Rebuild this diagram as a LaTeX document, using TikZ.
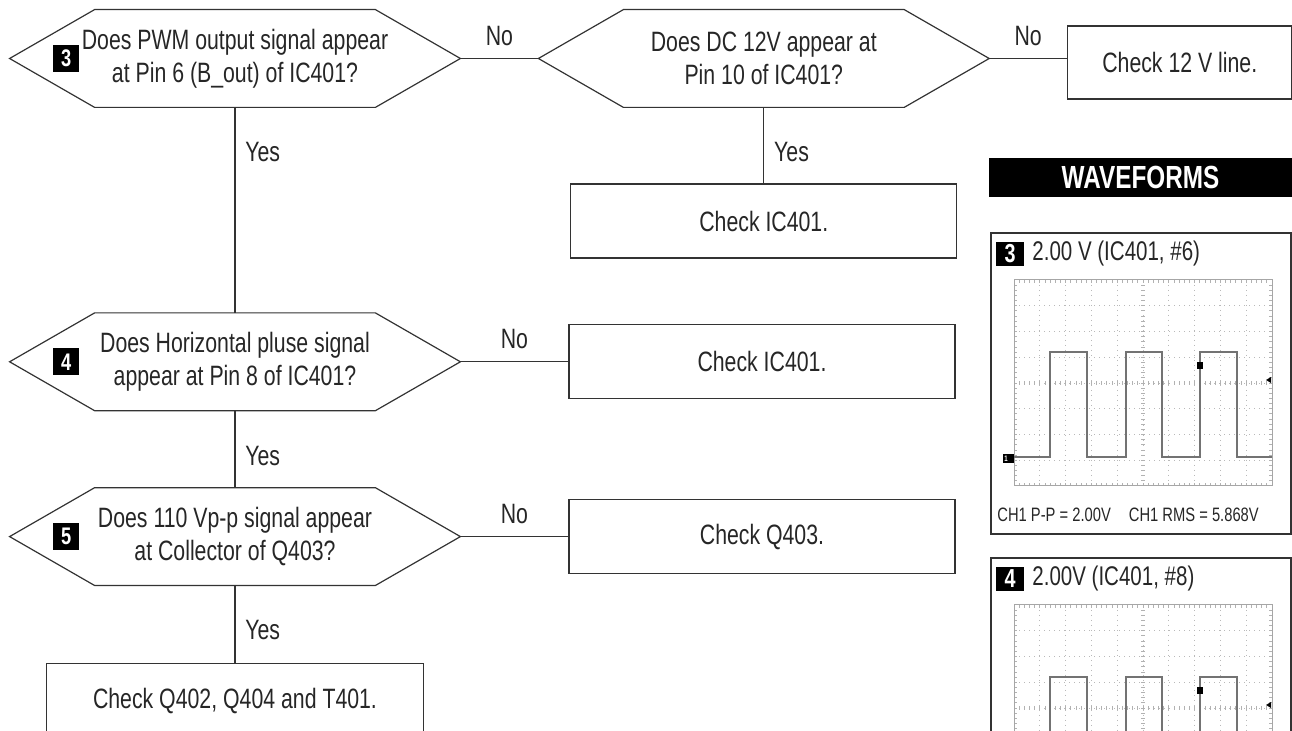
\documentclass[tikz,border=0pt]{standalone}
\usepackage{fontspec}
\setmainfont{Liberation Sans}[FakeStretch=0.76]
\usetikzlibrary{positioning,calc}

\begin{document}
\begin{tikzpicture}[x=0.5pt, y=-0.5pt,
  ln/.style={line width=0.6pt, draw=black!80},
  ques/.style={rectangle, minimum width=225pt, minimum height=48.5pt, inner sep=0pt,
    align=center, font=\fontsize{14}{16.5}\selectfont, text=black!85},
  chk/.style={rectangle, ln, minimum width=193pt, minimum height=37pt, inner sep=0pt,
    align=center, font=\fontsize{14}{16}\selectfont, text=black!85},
  lbl/.style={font=\fontsize{14}{16}\selectfont, text=black!85, inner sep=1pt},
  badge/.style={rectangle, fill=black, text=white, minimum width=13pt, minimum height=13.5pt,
    inner sep=0pt, font=\fontsize{12}{12}\selectfont\bfseries},
  pbadge/.style={badge, minimum width=14pt, minimum height=12pt, font=\fontsize{13}{13}\selectfont\bfseries},
  grd/.style={gray!55, line width=0.4pt, dash pattern=on 0.5pt off 2pt},
  tck/.style={gray!60, line width=0.4pt},
  wave/.style={black!55, line width=0.55pt}
]
\useasboundingbox (0,0) rectangle (1292,731);

\node[ques] (q3) at (235,58.5) {Does PWM output signal appear\\at Pin 6 (B\_out) of IC401?};
\node[ques, right=39pt of q3] (q12) {Does DC 12V appear at\\Pin 10 of IC401?};
\node[chk, minimum width=112pt, minimum height=36.5pt, right=39pt of q12, yshift=-2pt] (c12) {Check 12 V line.};
\node[chk, below=38pt of q12] (ic1) {Check IC401.};
\node[ques, below=102.75pt of q3] (q4) {Does Horizontal pluse signal\\appear at Pin 8 of IC401?};
\node[chk, right=54pt of q4] (ic2) {Check IC401.};
\node[ques, below=38.5pt of q4] (q5) {Does 110 Vp-p signal appear\\at Collector of Q403?};
\node[chk, right=54pt of q5] (q403) {Check Q403.};
\node[chk, minimum width=188.5pt, below=38.75pt of q5] (fin) {Check Q402, Q404 and T401.};

\foreach \h in {q3,q12,q4,q5}
  \draw[ln] (\h.west) -- ([xshift=42.5pt]\h.north west) -- ([xshift=-42.5pt]\h.north east)
    -- (\h.east) -- ([xshift=-42.5pt]\h.south east) -- ([xshift=42.5pt]\h.south west) -- cycle;

\foreach \h/\k in {q3/3,q4/4,q5/5}
  \node[badge] (b\k) at ([xshift=28.25pt]\h.west) {\k};

\draw[ln] (q3) -- node[lbl, above=5pt] (n1) {No} (q12);
\draw[ln] (q12.east) -- node[lbl, above=5pt] (n2) {No} (q12.east -| c12.west);
\draw[ln] (q4) -- node[lbl, above=5pt] (n3) {No} (ic2);
\draw[ln] (q5) -- node[lbl, above=5pt] (n4) {No} (q403);

\draw[ln] (q3) -- (q4);
\draw[ln] (q12) -- (ic1);
\draw[ln] (q4) -- (q5);
\draw[ln] (q5) -- (fin);
\node[lbl, anchor=west] (y1) at ([shift={(4pt,-22.5pt)}]q3.south) {Yes};
\node[lbl, anchor=west] (y2) at ([shift={(4pt,-22.5pt)}]q12.south) {Yes};
\node[lbl, anchor=west] (y3) at ([shift={(4pt,-22.5pt)}]q4.south) {Yes};
\node[lbl, anchor=west] (y4) at ([shift={(4pt,-22.5pt)}]q5.south) {Yes};

% waveforms
\node[fill=black, text=white, minimum width=151.5pt, minimum height=19.5pt, inner sep=0pt,
  font=\fontsize{16}{16}\selectfont\bfseries] (wf) at (1140.5,177.5) {WAVEFORMS};

\foreach \dy/\k/\t in {0/3/{2.00 V (IC401, \#6)},325/4/{2.00V (IC401, \#8)}} {
  \begin{scope}[shift={(0,\dy)}]
    \draw[ln] (991,233) rectangle (1291,534);
    \node[pbadge] (pb\k) at (1010,254) {\k};
    \node[lbl, anchor=west, font=\fontsize{13.5}{15}\selectfont] (pt\k) at (1030,254) {\t};
    \foreach \i in {1,...,9}
      \draw[grd] ({1014+25.8*\i},280) -- ({1014+25.8*\i},486);
    \foreach \j in {1,...,7}
      \draw[grd] (1014,{280+25.75*\j}) -- (1272,{280+25.75*\j});
    \foreach \i in {1,...,49} {
      \draw[tck] ({1014+5.16*\i},381) -- ({1014+5.16*\i},385);
      \draw[tck] ({1014+5.16*\i},280) -- ({1014+5.16*\i},283);
      \draw[tck] ({1014+5.16*\i},486) -- ({1014+5.16*\i},483);
    }
    \foreach \j in {1,...,39} {
      \draw[tck] (1141,{280+5.15*\j}) -- (1145,{280+5.15*\j});
      \draw[tck] (1014,{280+5.15*\j}) -- (1017,{280+5.15*\j});
      \draw[tck] (1272,{280+5.15*\j}) -- (1269,{280+5.15*\j});
    }
    \draw[gray!70, line width=0.5pt] (1014,280) rectangle (1272,486);
    \draw[wave] (1014,457) -- (1050,457) -- (1050,352) -- (1087,352) -- (1087,457)
      -- (1126,457) -- (1126,352) -- (1162,352) -- (1162,457) -- (1200,457)
      -- (1200,352) -- (1237,352) -- (1237,457) -- (1272,457);
    \fill[black] (1197,362) rectangle (1203,369);
    \fill[black] (1266,380) -- (1271,377) -- (1271,383) -- cycle;
  \end{scope}
}
\fill[black] (1003,454) rectangle (1014,463);
\node[text=white, inner sep=0pt, font=\fontsize{4}{4}\selectfont\bfseries] (m3) at (1006,458.5) {1};
\node[lbl, anchor=west, font=\fontsize{9.7}{12}\selectfont] (ch1) at (995,515)
  {CH1 P-P = 2.00V\hspace{9pt}CH1 RMS = 5.868V};
\end{tikzpicture}
\end{document}
